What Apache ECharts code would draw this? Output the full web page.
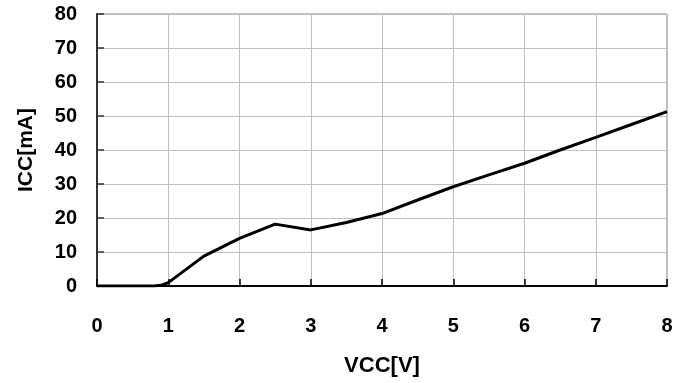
<!DOCTYPE html>
<html><head><meta charset="utf-8">
<script src="https://cdn.jsdelivr.net/npm/echarts@6/dist/echarts.min.js"></script>
<style>html,body{margin:0;padding:0;background:#fff}#c{width:689px;height:383px}</style>
</head><body><div id="c"></div>
<script>
var vcc = [0, 0.5, 0.8, 0.9, 1.0, 1.5, 2.0, 2.5, 3.0, 3.5, 4.0, 4.5, 5.0, 5.5, 6.0, 6.5, 7.0, 7.5, 8.0];
var icc = [0, 0, 0, 0.2, 1.0, 8.8, 14.0, 18.2, 16.5, 18.7, 21.3, 25.3, 29.2, 32.7, 36.1, 40.0, 43.7, 47.5, 51.3];
var xTicks = [0, 1, 2, 3, 4, 5, 6, 7, 8];
var yTicks = [0, 10, 20, 30, 40, 50, 60, 70, 80];

var nameFont = 'Liberation Sans';
var tickFont = 'Liberation Sans';
var chart = echarts.init(document.getElementById('c'), null, {renderer: 'canvas'});
chart.setOption({
  animation: false,
  grid: {left: 97, right: 22, top: 14, bottom: 97, show: true, borderColor: '#808080', borderWidth: 1, backgroundColor: 'transparent'},
  xAxis: {
    type: 'value', min: xTicks[0], max: xTicks[xTicks.length - 1], interval: 1,
    name: 'VCC[V]', nameLocation: 'middle', nameGap: 69,
    nameTextStyle: {fontFamily: nameFont, fontWeight: 'bold', fontSize: 22, color: '#000'},
    axisLine: {show: true, lineStyle: {color: '#000', width: 2}},
    axisTick: {show: true, inside: true, length: 7, lineStyle: {color: '#000', width: 1.5}},
    axisLabel: {fontFamily: tickFont, fontWeight: 'bold', fontSize: 20, color: '#000', margin: 30},
    splitLine: {show: true, lineStyle: {color: '#c0c0c0', width: 1}}
  },
  yAxis: {
    type: 'value', min: yTicks[0], max: yTicks[yTicks.length - 1], interval: 10,
    name: 'ICC[mA]', nameLocation: 'middle', nameGap: 60, nameRotate: 90,
    nameTextStyle: {fontFamily: nameFont, fontWeight: 'bold', fontSize: 21, color: '#000'},
    axisLine: {show: true, lineStyle: {color: '#333', width: 2}},
    axisTick: {show: true, inside: true, length: 7, lineStyle: {color: '#333', width: 1.5}},
    axisLabel: {fontFamily: tickFont, fontWeight: 'bold', fontSize: 20, color: '#000', margin: 20},
    splitLine: {show: true, lineStyle: {color: '#c0c0c0', width: 1}}
  },
  series: [{
    type: 'line', data: vcc.map(function (v, i) { return [v, icc[i]]; }),
    showSymbol: false, smooth: false,
    lineStyle: {color: '#000', width: 3}
  }]
});
</script></body></html>
